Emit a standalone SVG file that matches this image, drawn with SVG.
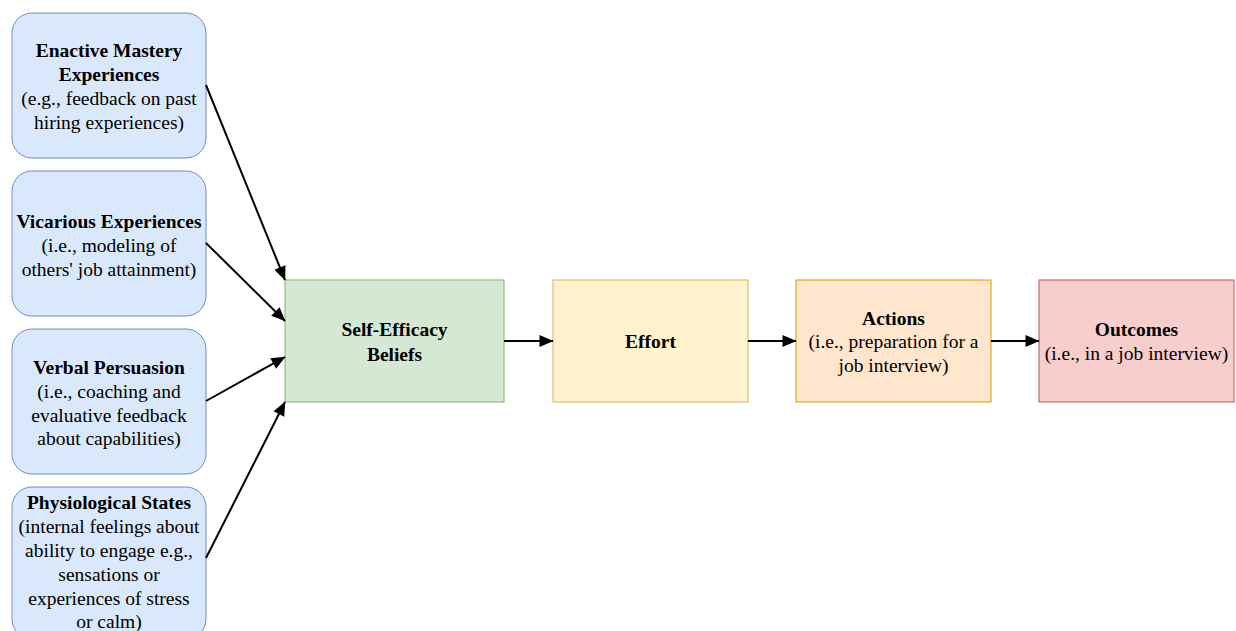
<svg xmlns="http://www.w3.org/2000/svg" width="1236" height="631" viewBox="0 0 1236 631">
<defs>
<marker id="arr" viewBox="0 0 14 12" refX="13.5" refY="6" markerWidth="7" markerHeight="6" orient="auto" overflow="visible">
<path d="M0,0 L14,6 L0,12 Z" fill="#000"/>
</marker>
<style>
text{font-family:"Liberation Serif","Times New Roman",serif;font-size:19.5px;fill:#000;text-anchor:middle}
.b{font-weight:bold}
.src rect{fill:#dae8fc;stroke:#6c8ebf;stroke-width:1}
.c line{stroke:#000;stroke-width:2;marker-end:url(#arr)}
</style>
</defs>
<rect width="1236" height="631" fill="#fff"/>
<g class="src" id="n-enactive">
<rect x="12" y="13" width="194" height="145" rx="20"/>
<text x="109" y="57" class="b">Enactive Mastery</text>
<text x="109" y="81" class="b">Experiences</text>
<text x="109" y="105">(e.g., feedback on past</text>
<text x="109" y="129">hiring experiences)</text>
</g>
<g class="src" id="n-vicarious">
<rect x="12" y="171" width="194" height="145" rx="20"/>
<text x="109" y="228" class="b">Vicarious Experiences</text>
<text x="109" y="252">(i.e., modeling of</text>
<text x="109" y="276">others' job attainment)</text>
</g>
<g class="src" id="n-verbal">
<rect x="12" y="329" width="194" height="145" rx="20"/>
<text x="109" y="374" class="b">Verbal Persuasion</text>
<text x="109" y="398">(i.e., coaching and</text>
<text x="109" y="422">evaluative feedback</text>
<text x="109" y="445">about capabilities)</text>
</g>
<g class="src" id="n-physio">
<rect x="12" y="487" width="194" height="152" rx="20"/>
<text x="109" y="509" class="b">Physiological States</text>
<text x="109" y="533">(internal feelings about</text>
<text x="109" y="557">ability to engage e.g.,</text>
<text x="109" y="581">sensations or</text>
<text x="109" y="605">experiences of stress</text>
<text x="109" y="628">or calm)</text>
</g>
<g id="n-selfeff">
<rect x="285" y="280" width="219" height="122" fill="#d5e8d4" stroke="#82b366"/>
<text x="394.5" y="336" class="b">Self-Efficacy</text>
<text x="394.5" y="361" class="b">Beliefs</text>
</g>
<g id="n-effort">
<rect x="553" y="280" width="195" height="122" fill="#fff2cc" stroke="#d6b656"/>
<text x="650.5" y="348" class="b">Effort</text>
</g>
<g id="n-actions">
<rect x="796" y="280" width="195" height="122" fill="#ffe6cc" stroke="#d79b00"/>
<text x="893.5" y="325" class="b">Actions</text>
<text x="893.5" y="348">(i.e., preparation for a</text>
<text x="893.5" y="372">job interview)</text>
</g>
<g id="n-outcomes">
<rect x="1039" y="280" width="195" height="122" fill="#f8cecc" stroke="#b85450"/>
<text x="1136.5" y="336" class="b">Outcomes</text>
<text x="1136.5" y="360">(i.e., in a job interview)</text>
</g>
<g class="c" id="connectors">
<line x1="206" y1="85" x2="285" y2="280"/>
<line x1="206" y1="243" x2="285" y2="321"/>
<line x1="206" y1="401" x2="285" y2="357"/>
<line x1="206" y1="558" x2="285" y2="402"/>
<line x1="504" y1="341" x2="553" y2="341"/>
<line x1="748" y1="341" x2="796" y2="341"/>
<line x1="991" y1="341" x2="1039" y2="341"/>
</g>
</svg>
